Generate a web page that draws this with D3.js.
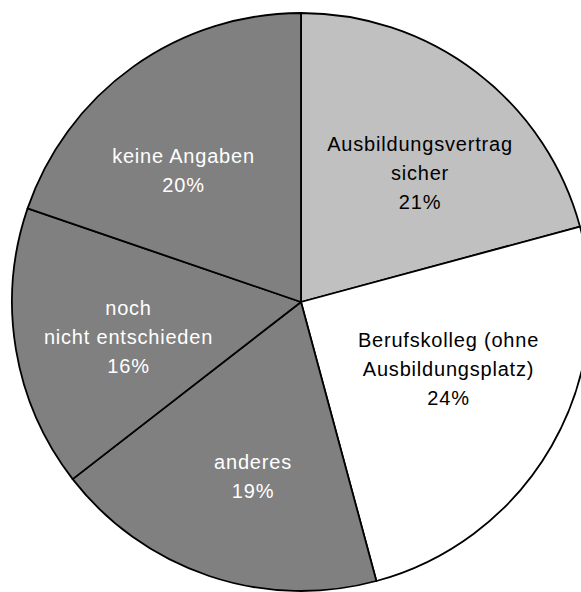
<!DOCTYPE html>
<html>
<head>
<meta charset="utf-8">
<script src="https://cdn.jsdelivr.net/npm/d3@7"></script>
<style>
  html, body { margin: 0; padding: 0; background: #fff; overflow: hidden; }
  svg { display: block; }
</style>
</head>
<body>
<svg id="chart" width="581" height="592"></svg>
<script>
// ---- data ----
const categories = [
  "Ausbildungsvertrag sicher",
  "Berufskolleg (ohne Ausbildungsplatz)",
  "anderes",
  "noch nicht entschieden",
  "keine Angaben"
];
const shares = [20.8, 25.0, 18.7, 15.75, 19.75];
// percentages as printed on the chart
const percentLabels = ["21%", "24%", "19%", "16%", "20%"];
// label text split into lines as printed
const labelLines = [
  ["Ausbildungsvertrag", "sicher"],
  ["Berufskolleg (ohne", "Ausbildungsplatz)"],
  ["anderes"],
  ["noch", "nicht entschieden"],
  ["keine Angaben"]
];

// ---- layout / style ----
const cx = 301, cy = 302, R = 289;
const fills = ["#c0c0c0", "#ffffff", "#808080", "#808080", "#808080"];
const textFills = ["#000000", "#000000", "#ffffff", "#ffffff", "#ffffff"];
// first-line anchor of each label, relative to the pie centre
const labelAnchor = [[119, -151.5], [147.5, 44.5], [-48, 167], [-172.5, 13], [-117.5, -139]];
const lineStep = 29;

const svg = d3.select("#chart");
const g = svg.append("g").attr("transform", `translate(${cx},${cy})`);

const pie = d3.pie().sort(null).value(d => d).startAngle(0).endAngle(2 * Math.PI);
const arcs = pie(shares);
const arc = d3.arc().innerRadius(0).outerRadius(R);

g.selectAll("path.slice")
  .data(arcs)
  .join("path")
  .attr("class", "slice")
  .attr("d", arc)
  .attr("fill", (d, i) => fills[i])
  .attr("stroke", "#000")
  .attr("stroke-width", 1.8)
  .attr("stroke-linejoin", "round");

const labels = g.selectAll("text.lbl")
  .data(arcs)
  .join("text")
  .attr("class", "lbl")
  .attr("text-anchor", "middle")
  .attr("font-family", "'Liberation Sans', Arial, Helvetica, sans-serif")
  .attr("font-size", 20)
  .attr("letter-spacing", 0.8)
  .attr("fill", (d, i) => textFills[i])
  .attr("transform", (d, i) => `translate(${labelAnchor[i][0]},${labelAnchor[i][1]})`);

labels.each(function(d, i) {
  const lines = labelLines[i].concat([percentLabels[i]]);
  d3.select(this).selectAll("tspan")
    .data(lines)
    .join("tspan")
    .attr("x", 0)
    .attr("y", (t, j) => j * lineStep)
    .text(t => t);
});
</script>
</body>
</html>
